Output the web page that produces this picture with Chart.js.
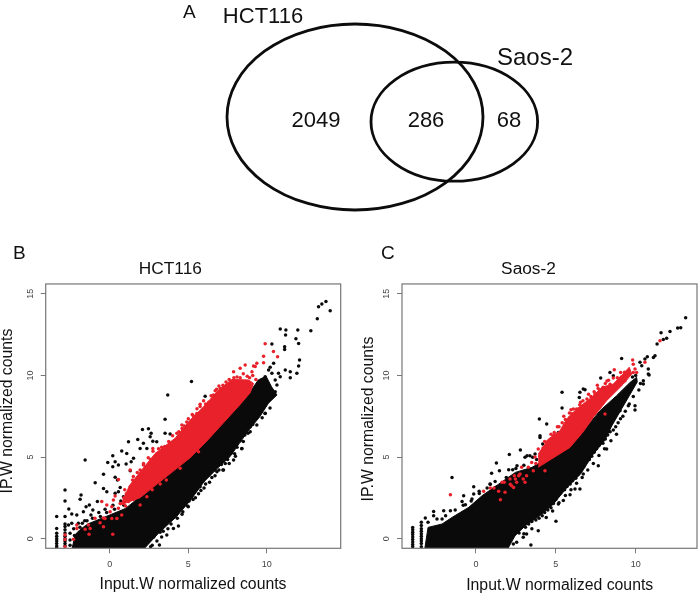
<!DOCTYPE html>
<html>
<head>
<meta charset="utf-8">
<title>HCT116 and Saos-2</title>
<script src="https://cdn.jsdelivr.net/npm/chart.js@4/dist/chart.umd.min.js"></script>
<style>
  html, body { margin: 0; background: #fff; }
  #page { position: relative; width: 700px; height: 600px; overflow: hidden; font-family: "Liberation Sans", sans-serif; color: #111; }
  #page canvas { position: absolute; }
  .letter { position: absolute; font-size: 19px; line-height: 1; }
</style>
</head>
<body>
<div id="page">
  <canvas id="venn" style="left:0;top:0;width:700px;height:230px"></canvas>
  <canvas id="hct" style="left:0;top:240px;width:371px;height:360px"></canvas>
  <canvas id="saos" style="left:360px;top:240px;width:380px;height:360px"></canvas>
  <div class="letter" style="left:183px;top:2px">A</div>
  <div class="letter" style="left:13px;top:243px">B</div>
  <div class="letter" style="left:381px;top:243px">C</div>
</div>
<script>
var RED = "#e8212b";
var BLACK = "#0a0a0a";
var xTicks = [0, 5, 10];
var yTicks = [0, 5, 10, 15];
var xTitle = "Input.W normalized counts";
var yTitle = "IP.W normalized counts";

// venn
var setNames = ["HCT116", "Saos-2"];
var vennCounts = [2049, 286, 68];
var vennEllipses = [[355, 117, 128, 93], [454.3, 121.7, 83.3, 59.5]];
var setNameSpots = [[263, 17], [535, 58]];
var countSpots = [[316, 121], [426, 121], [509, 121]];

// HCT116 - dense bands
var hctCore = [[-2.4,-0.6],[-2.2,0.25],[-1.9,0.55],[-1.4,0.9],[-0.9,1.1],[0,1.45],[1,1.85],[1.93,2.57],[2.99,3.39],[4.05,4.2],[5.12,5.02],[6.18,6.04],[7.24,7.16],[8.3,8.29],[8.94,9.0],[9.45,9.72],[9.95,9.95],[10.3,9.3],[10.64,8.8],[10.1,8.3],[9.55,7.47],[8.85,6.65],[8.25,5.84],[7.65,5.02],[6.85,4.31],[6.0,3.49],[5.15,2.37],[4.25,1.35],[3.1,0.33],[2.2,-0.6]];
var hctRedBand = [[1.19,3.18],[2.03,4.2],[2.89,5.22],[4.16,6.15],[5.12,7.27],[5.97,8.08],[6.92,9.1],[7.77,9.75],[8.83,9.72],[9.15,9.51],[8.94,8.94],[8.3,8.22],[7.24,7.1],[6.18,5.98],[5.12,4.96],[4.05,4.14],[2.99,3.33],[1.93,2.51],[0.66,2.06]];
var hctBlack = [[13.76,14.53],[13.5,14.37],[13.29,14.2],[14.03,13.96],[13.21,13.47],[10.85,12.84],[11.21,12.78],[11.97,12.78],[12.8,12.73],[11.19,12.47],[11.85,12.24],[12.02,11.96],[10.32,11.92],[11.13,11.76],[11.13,11.59],[12.08,10.94],[12.02,10.58],[11.91,10.13],[11.49,10.23],[11.49,9.86],[11.17,10.33],[10.85,9.92],[10.74,10.13],[10.32,10.13],[9.89,9.92],[10.43,10.74],[10.11,10.33],[10.21,10.5],[10.53,9.72],[10.64,9.41],[10.53,9.0],[10.32,8.7],[10.11,8.5],[9.89,7.68],[9.79,8.19],[5.2,9.63],[3.69,8.8],[3.52,7.31],[6.07,8.73],[2.08,6.69],[2.46,6.73],[1.78,6.08],[1.19,5.94],[2.63,6.45],[2.57,6.24],[2.74,5.96],[2.99,5.94],[3.52,6.45],[3.84,6.41],[2.14,5.84],[1.93,5.53],[2.36,5.53],[0.76,5.37],[0.19,5.08],[1.08,5.22],[-0.13,4.67],[-1.57,4.82],[0.19,4.41],[0.34,4.71],[0.55,4.51],[1.04,4.57],[1.36,4.71],[1.51,4.92],[-0.4,3.94],[-0.93,3.43],[0.34,3.76],[0.49,3.59],[1.3,4.16],[-0.4,3.08],[-0.19,2.88],[0.66,3.14],[0.34,2.78],[0.55,2.88],[0.87,2.57],[-2.85,2.98],[-2.85,2.3],[-1.83,2.67],[-1.89,2.41],[-2.61,1.82],[-1.51,1.96],[-1.3,2.06],[-0.79,2.27],[-1.08,1.76],[-1.68,1.65],[-3.38,1.35],[-2.85,1.35],[-2.42,1.51],[-2.1,1.45],[-2.63,0.84],[-2.42,0.94],[-3.38,0.63],[-3.38,0.33],[-3.38,0.15],[-3.38,0.0],[-3.38,-0.15],[-3.38,-0.3],[-3.38,-0.45],[-3.38,-0.55],[-2.85,0.9],[-2.85,0.75],[-2.85,0.55],[-2.85,0.35],[-2.85,0.15],[-2.85,0.0],[-2.85,-0.15],[-2.85,-0.3],[-2.85,-0.45],[-2.53,0.33],[-2.53,-0.08],[-2.53,-0.4],[-2.3,0.6],[-2.25,0.2],[-2.0,0.95],[-1.9,0.7],[-1.75,0.95],[-1.6,1.1],[-1.45,1.1],[-1.2,1.45],[-1.1,1.25],[-0.7,1.6],[-0.6,1.35],[-0.3,1.8],[-0.2,1.6],[0.2,2.05],[0.3,1.8],[0.7,2.3],[0.9,2.05],[1.3,2.45],[1.6,2.7],[9.89,7.67],[9.36,6.96],[8.94,6.55],[8.41,5.53],[7.88,4.82],[7.24,4.2],[6.82,4.1],[5.75,3.18],[5.22,2.57],[4.8,2.16],[4.37,0.78],[4.05,0.63],[3.63,0.22],[3.16,-0.39],[2.46,-0.18],[2.6,-0.5],[2.8,0.1],[3.2,0.4],[3.5,0.85],[3.85,1.15],[4.2,1.5],[4.45,1.85],[4.7,2.05],[5.05,2.3],[5.3,2.85],[5.6,3.2],[5.95,3.55],[6.3,3.9],[6.7,4.2],[7.1,4.55],[7.5,4.85],[7.75,5.25],[8.1,5.6],[8.3,6.0],[8.6,6.35],[8.95,6.85],[9.2,7.3],[9.5,7.75],[3.4,0.45],[3.9,0.9],[4.3,1.25],[4.65,1.65],[4.95,2.0],[5.45,2.5],[5.8,2.95],[6.1,3.35],[6.5,3.75],[6.95,4.2],[7.35,4.6],[7.95,5.2],[8.5,5.95],[8.8,6.45],[9.1,7.0],[9.7,7.4],[10.2,8.0],[4.6,1.5],[5.0,1.95],[5.3,2.4],[5.65,2.75],[6.0,3.1],[6.35,3.45],[6.7,3.85],[7.2,4.2],[7.6,4.6],[8.0,5.05],[8.4,5.5],[3.7,0.6],[3.3,0.1],[3.0,-0.15],[2.7,-0.4]];
var hctRed = [[9.89,11.94],[10.42,11.47],[10.68,11.14],[9.79,11.18],[9.79,10.78],[9.36,10.74],[9.26,10.54],[9.05,10.23],[9.15,10.57],[8.62,10.64],[8.3,10.43],[7.88,10.22],[7.66,9.51],[7.03,9.2],[6.71,9.06],[5.97,8.45],[5.75,8.24],[5.54,7.67],[4.59,6.96],[4.27,6.45],[3.84,5.84],[2.74,5.53],[2.14,4.51],[1.93,4.2],[1.3,4.2],[4.48,4.31],[5.65,5.33],[3.21,3.35],[2.36,2.57],[1.93,2.06],[0.55,3.63],[0.34,2.61],[0.23,2.37],[-0.51,2.27],[-0.19,2.06],[0.13,1.96],[0.55,1.86],[0.87,2.16],[1.19,2.27],[0.66,2.16],[0.02,1.65],[-0.3,1.24],[-0.62,0.98],[-0.94,1.25],[-0.41,1.27],[0.13,1.24],[0.45,1.24],[0.76,1.45],[-1.36,0.84],[-1.25,0.63],[-1.57,0.57],[-1.32,0.27],[-2.1,0.84],[-2.1,0.63],[-2.85,0.23],[-2.85,-0.05],[-2.85,-0.49],[-2.31,-0.04],[0.19,0.27],[-0.4,0.73],[1.4,2.95],[1.05,2.75],[0.95,3.0],[1.6,3.5],[1.45,3.6],[2.0,3.95],[2.3,4.4],[2.6,4.85],[3.0,5.2],[3.3,5.6],[3.5,5.65],[4.4,6.55],[4.75,6.9],[4.9,7.15],[5.3,7.55],[5.55,7.95],[6.3,8.35],[6.6,8.8],[6.95,9.35],[7.2,9.4],[7.6,9.75],[8.1,9.9],[8.5,10.1],[8.75,9.95],[9.1,10.0],[9.3,9.75],[0.9,2.5],[1.0,2.0],[1.5,2.4],[2.7,3.0],[3.6,3.6],[1.5,3.8],[1.75,4.05],[2.15,4.6],[2.45,4.95],[2.75,5.35],[3.1,5.5],[3.75,5.95],[4.0,6.3],[4.6,6.75],[5.0,7.35],[5.25,7.6],[5.75,8.1],[6.1,8.25],[6.45,8.75],[6.8,9.15],[7.4,9.6],[7.9,9.85],[8.3,9.85],[8.9,9.85]];

// Saos-2 - dense bands
var saosCore = [[-3.2,-0.6],[-3.0,0.69],[-2.12,0.9],[-1.5,1.3],[-0.45,1.92],[0.38,2.63],[1.42,3.34],[2.47,4.06],[3.51,4.37],[4.63,4.98],[5.68,5.59],[6.72,6.61],[7.77,7.84],[8.81,8.76],[9.65,9.57],[10.06,9.88],[10.1,9.6],[9.6,8.75],[9.0,7.75],[8.5,6.9],[8.05,6.0],[7.35,5.18],[6.55,3.96],[5.7,3.14],[4.85,2.12],[4.0,1.41],[3.1,0.8],[2.45,0.18],[2.0,-0.6]];
var saosRedBand = [[3.9,5.18],[4.53,6.1],[5.26,6.61],[5.68,7.33],[6.3,7.94],[7.24,8.65],[7.87,9.27],[8.6,9.47],[9.12,10.0],[9.6,10.5],[9.75,10.08],[9.23,9.47],[8.18,8.45],[7.35,7.43],[6.72,6.55],[5.89,5.59],[4.63,4.82],[3.9,4.37]];
var saosBlack = [[13.13,13.53],[11.59,12.61],[12.15,12.69],[12.63,12.9],[12.82,12.92],[11.94,12.27],[11.73,12.2],[11.34,11.92],[11.11,11.1],[11.21,11.2],[10.73,11.14],[10.58,11.0],[10.27,10.8],[9.12,11.04],[10.38,10.59],[10.79,10.39],[10.84,10.02],[10.79,10.08],[10.48,9.47],[10.48,9.67],[7.81,9.84],[8.39,10.18],[8.6,9.98],[5.39,8.96],[5.39,8.0],[6.83,9.12],[6.72,9.16],[6.51,8.96],[6.47,8.65],[3.97,7.33],[4.43,7.02],[4.01,6.31],[4.01,6.2],[5.16,6.51],[4.18,5.8],[2.78,5.43],[2.09,5.16],[3.07,4.98],[3.2,5.08],[3.38,5.08],[3.55,4.98],[3.7,5.18],[3.8,4.85],[1.28,4.63],[2.05,4.22],[2.3,4.22],[2.57,4.47],[1.47,4.16],[0.98,4.0],[-1.5,3.75],[-0.14,3.18],[0.88,3.35],[0.9,3.34],[1.22,3.14],[-0.77,2.63],[0.21,2.77],[-0.14,2.73],[-0.25,2.43],[-0.87,2.28],[-0.66,2.08],[-1.6,1.71],[-2.02,1.71],[-2.65,1.67],[-2.65,1.41],[-3.17,1.26],[-3.0,1.0],[-2.44,1.2],[-2.12,1.2],[-3.96,0.69],[-3.96,0.55],[-3.96,0.4],[-3.96,0.25],[-3.96,0.1],[-3.96,-0.05],[-3.96,-0.2],[-3.96,-0.35],[-3.96,-0.5],[-3.42,1.0],[-3.42,0.8],[-3.42,0.6],[-3.42,0.45],[-3.42,0.3],[-3.42,0.15],[-3.42,0.0],[-3.42,-0.15],[-3.42,-0.3],[-3.42,-0.5],[-1.9,1.4],[-1.3,1.75],[-0.8,2.05],[-0.3,2.3],[0.2,2.9],[0.7,3.1],[1.2,3.5],[1.9,3.75],[2.5,4.3],[3.0,4.5],[9.96,8.14],[9.96,7.88],[9.54,8.14],[9.02,7.84],[7.66,4.47],[8.18,5.49],[7.87,6.0],[7.45,5.8],[6.72,3.96],[6.51,3.04],[6.2,3.04],[5.89,2.69],[5.47,2.33],[5.16,2.12],[5.01,1.06],[3.9,0.49],[3.17,0.29],[2.96,0.08],[3.44,-0.39],[2.55,-0.22],[2.34,-0.33],[2.7,0.35],[3.1,0.7],[3.5,1.05],[3.95,1.25],[4.3,1.6],[4.7,1.9],[5.0,2.4],[5.3,2.8],[5.7,3.2],[6.05,3.55],[6.4,3.95],[6.75,4.4],[7.1,4.85],[7.4,5.3],[7.7,5.7],[8.1,6.1],[8.4,6.55],[8.75,6.85],[9.05,7.35],[9.35,7.8],[9.6,8.25],[9.85,8.7],[10.2,9.1],[10.3,9.5],[10.0,10.0],[9.8,9.9],[3.3,0.9],[3.75,1.15],[4.15,1.4],[4.5,1.75],[4.85,2.15],[5.55,3.0],[5.9,3.35],[6.25,3.7],[6.6,4.2],[7.25,5.05],[7.55,5.5],[7.95,5.85],[8.25,6.35],[8.6,6.65],[8.9,7.1],[9.2,7.5],[5.6,2.65],[5.95,3.0],[6.3,3.4],[6.65,3.75],[7.0,4.2],[7.35,4.6],[7.7,5.1],[8.05,5.5],[8.45,6.0],[8.8,6.4],[4.4,1.3],[4.8,1.7],[5.2,2.2],[3.5,0.6],[3.0,0.3]];
var saosRed = [[-1.6,2.69],[0.48,2.9],[0.9,3.1],[1.13,3.1],[1.53,2.39],[1.82,2.84],[1.42,2.9],[1.77,3.45],[2.13,3.65],[2.23,3.24],[2.36,3.14],[2.55,3.45],[2.76,3.96],[3.07,3.45],[2.96,3.65],[3.17,3.86],[2.86,4.37],[3.28,4.37],[3.59,4.16],[4.32,4.16],[3.9,5.49],[3.49,4.67],[4.11,4.67],[4.43,4.98],[2.47,3.65],[2.68,3.85],[1.63,3.45],[2.15,3.34],[6.1,7.94],[5.89,7.43],[6.3,7.94],[7.45,8.86],[7.97,9.27],[8.08,7.63],[8.6,9.84],[8.66,10.35],[9.06,10.18],[9.81,10.94],[9.85,10.69],[9.96,10.39],[10.06,10.18],[10.58,10.8],[11.52,12.12],[9.85,10.18],[9.33,9.67],[4.2,5.55],[4.5,5.95],[4.9,6.5],[5.2,6.85],[5.6,7.3],[6.0,7.65],[6.5,8.2],[6.95,8.55],[7.2,8.7],[7.65,9.2],[8.1,9.5],[8.4,9.45],[9.1,9.9],[2.4,3.85],[3.75,4.6],[3.7,5.0],[4.0,5.05],[4.7,6.4],[5.4,7.1],[5.85,7.7],[6.7,8.45],[7.4,9.0],[8.3,9.7],[4.3,5.95],[4.85,6.3],[5.1,6.85],[5.5,7.5],[5.95,7.9],[6.55,8.35],[7.05,8.85],[7.6,9.4],[8.2,9.65],[8.85,9.85],[9.3,10.2]];

function venn() {
  var ellipsePlugin = {
    id: "ellipses",
    afterDraw: function (chart) {
      var ctx = chart.ctx, sx = chart.scales.x, sy = chart.scales.y;
      var px = function (v) { return sx.getPixelForValue(v); };
      var py = function (v) { return sy.getPixelForValue(v); };
      ctx.save();
      ctx.strokeStyle = "#0c0c0c";
      ctx.lineWidth = 2.8;
      vennEllipses.forEach(function (e) {
        ctx.beginPath();
        ctx.ellipse(px(e[0]), py(e[1]), Math.abs(px(e[2]) - px(0)), Math.abs(py(e[3]) - py(0)), 0, 0, Math.PI * 2);
        ctx.stroke();
      });
      ctx.fillStyle = "#111";
      ctx.textAlign = "center";
      ctx.textBaseline = "middle";
      ctx.font = "22px 'Liberation Sans'";
      vennCounts.forEach(function (c, i) {
        ctx.fillText(String(c), px(countSpots[i][0]), py(countSpots[i][1]));
      });
      ctx.fillText(setNames[0], px(setNameSpots[0][0]), py(setNameSpots[0][1]));
      ctx.font = "24px 'Liberation Sans'";
      ctx.fillText(setNames[1], px(setNameSpots[1][0]), py(setNameSpots[1][1]));
      ctx.restore();
    }
  };
  new Chart(document.getElementById("venn"), {
    type: "scatter",
    data: { datasets: [] },
    plugins: [ellipsePlugin],
    options: {
      responsive: false, animation: false,
      layout: { padding: 0 },
      plugins: { legend: { display: false }, tooltip: { enabled: false } },
      scales: {
        x: { display: false, min: 0, max: 700 },
        y: { display: false, min: 0, max: 230, reverse: true }
      }
    }
  });
}

// box round the plot, and axis titles (they sit a bit off centre in the picture)
function framePlugin(o) {
  return {
    id: "frame",
    afterDraw: function (chart) {
      var a = chart.chartArea, ctx = chart.ctx;
      ctx.save();
      ctx.strokeStyle = "#777";
      ctx.lineWidth = 1.2;
      ctx.strokeRect(a.left, a.top, a.right - a.left, a.bottom - a.top);
      ctx.fillStyle = "#111";
      ctx.font = "15.8px 'Liberation Sans'";
      ctx.textAlign = "center";
      ctx.textBaseline = "middle";
      ctx.fillText(xTitle, o.xTitleAt[0], o.xTitleAt[1]);
      ctx.translate(o.yTitleAt[0], o.yTitleAt[1]);
      ctx.rotate(-Math.PI / 2);
      ctx.fillText(yTitle, 0, 0);
      ctx.restore();
    }
  };
}

function scatter(id, title, core, redBand, black, red, o) {
  var dot = { showLine: false, pointRadius: 1.75, pointBorderWidth: 0 };
  var band = function (pts, col, ord) {
    return { data: pts, showLine: true, fill: "shape", backgroundColor: col, borderColor: col, borderWidth: 1, pointRadius: 0, order: ord };
  };
  new Chart(document.getElementById(id), {
    type: "scatter",
    data: {
      datasets: [
        band(core, BLACK, 4),
        Object.assign({ data: black, backgroundColor: BLACK, order: 3 }, dot),
        band(redBand, RED, 2),
        Object.assign({ data: red, backgroundColor: RED, order: 1 }, dot)
      ]
    },
    plugins: [framePlugin(o)],
    options: {
      responsive: false, animation: false,
      layout: { padding: { left: 0, right: o.right, top: 0, bottom: 0 } },
      plugins: {
        legend: { display: false }, tooltip: { enabled: false },
        title: {
          display: true, text: title, color: "#111",
          font: { family: "Liberation Sans", size: 17.3, weight: "normal", lineHeight: 1.2 },
          padding: { top: 18.6, bottom: 4.6 }
        }
      },
      scales: {
        x: {
          min: o.xMin, max: o.xMax,
          afterBuildTicks: function (s) { s.ticks = xTicks.map(function (v) { return { value: v }; }); },
          afterFit: function (s) { s.height = 51.7; },
          grid: { drawOnChartArea: false, tickLength: 5, color: "#777", lineWidth: 1 },
          border: { display: false },
          ticks: { color: "#444", font: { family: "Liberation Sans", size: 9 }, padding: 6, maxRotation: 0 }
        },
        y: {
          min: -0.59, max: 15.6,
          afterBuildTicks: function (s) { s.ticks = yTicks.map(function (v) { return { value: v }; }); },
          afterFit: function (s) { s.width = o.left; },
          grid: { drawOnChartArea: false, tickLength: 5, color: "#777", lineWidth: 1 },
          border: { display: false },
          ticks: { color: "#444", font: { family: "Liberation Sans", size: 9 }, padding: 5, minRotation: 90, maxRotation: 90, crossAlign: "center" }
        }
      }
    }
  });
}

function setSize(id, w, h) {
  var c = document.getElementById(id);
  c.width = w; c.height = h;
}
setSize("venn", 700, 230);
setSize("hct", 371, 360);
setSize("saos", 380, 360);
venn();
scatter("hct", "HCT116", hctCore, hctRedBand, hctBlack, hctRed, { left: 45.7, right: 30.3, xMin: -4.08, xMax: 14.7, xTitleAt: [193, 345], yTitleAt: [7.5, 171] });
scatter("saos", "Saos-2", saosCore, saosRedBand, saosBlack, saosRed, { left: 42, right: 43, xMin: -4.63, xMax: 13.84, xTitleAt: [199.7, 346], yTitleAt: [8.7, 179] });
</script>
</body>
</html>
